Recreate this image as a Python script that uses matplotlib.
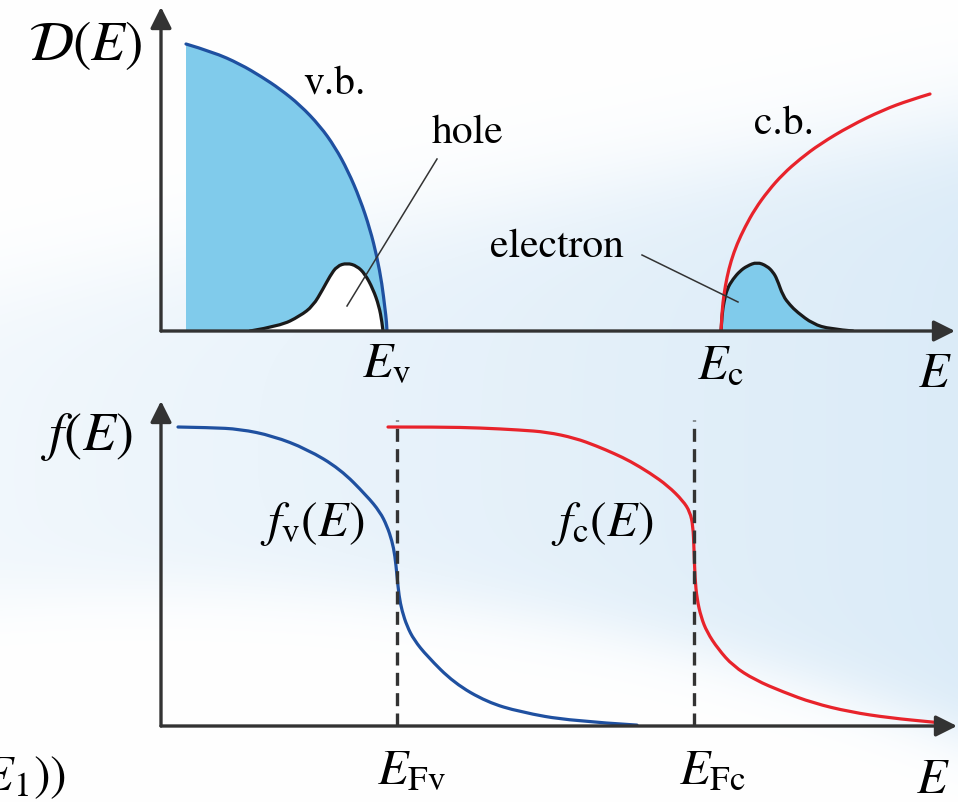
import numpy as np
import matplotlib.pyplot as plt
from matplotlib.path import Path
from matplotlib.patches import PathPatch

plt.rcParams['font.family'] = 'STIXGeneral'
plt.rcParams['mathtext.fontset'] = 'stix'

# band edges and quasi-Fermi levels (arbitrary energy units)
E_v, E_c = 2.26, 5.60
E_Fv, E_Fc = 2.36, 5.33

# valence band density of states
vb_E = [0.25, 0.52, 0.79, 1.01, 1.19, 1.39, 1.59, 1.74, 1.87, 1.99, 2.09,
        2.16, 2.21, 2.24, 2.255, 2.26]
vb_D = [2.87, 2.79, 2.67, 2.54, 2.42, 2.26, 2.05, 1.84, 1.60, 1.32, 1.02,
        0.74, 0.47, 0.22, 0.10, 0.00]

# holes near the valence band edge
hole_E = [0.89, 1.19, 1.39, 1.52, 1.62, 1.69, 1.76, 1.86, 1.96, 2.04, 2.12,
          2.18, 2.21, 2.22]
hole_D = [0.00, 0.05, 0.15, 0.25, 0.42, 0.55, 0.65, 0.68, 0.65, 0.57, 0.42,
          0.25, 0.09, 0.00]

# conduction band density of states
cb_E = [5.60, 5.61, 5.63, 5.66, 5.70, 5.76, 5.84, 5.94, 6.07, 6.22, 6.39,
        6.59, 6.89, 7.22, 7.49, 7.69]
cb_D = [0.00, 0.20, 0.37, 0.54, 0.70, 0.87, 1.04, 1.22, 1.40, 1.57, 1.72,
        1.87, 2.05, 2.21, 2.31, 2.37]

# electrons near the conduction band edge
el_E = [5.60, 5.61, 5.63, 5.66, 5.72, 5.79, 5.86, 5.96, 6.06, 6.12, 6.16,
        6.22, 6.29, 6.36, 6.52, 6.69, 6.92]
el_D = [0.00, 0.17, 0.29, 0.42, 0.52, 0.60, 0.65, 0.69, 0.65, 0.59, 0.52,
        0.35, 0.26, 0.19, 0.07, 0.02, 0.00]

# occupation probabilities
fv_E = [0.17, 0.49, 0.79, 1.12, 1.46, 1.79, 2.06, 2.19, 2.26, 2.31, 2.34,
        2.36, 2.38, 2.41, 2.46, 2.53, 2.66, 2.93, 3.26, 3.59, 4.09, 4.76]
fv = [1.000, 0.998, 0.993, 0.970, 0.926, 0.860, 0.769, 0.716, 0.669, 0.619,
      0.569, 0.502, 0.435, 0.385, 0.334, 0.288, 0.234, 0.144, 0.080, 0.047,
      0.017, 0.003]
fc_E = [2.27, 2.79, 3.19, 3.59, 3.86, 4.14, 4.36, 4.54, 4.69, 4.89, 5.07,
        5.22, 5.29, 5.32, 5.33, 5.34, 5.36, 5.40, 5.46, 5.57, 5.72, 5.94,
        6.22, 6.52, 6.89, 7.29, 7.72, 7.81]
fc = [1.000, 1.000, 0.997, 0.990, 0.983, 0.963, 0.936, 0.910, 0.886, 0.846,
      0.803, 0.753, 0.716, 0.669, 0.592, 0.492, 0.425, 0.365, 0.314, 0.258,
      0.201, 0.154, 0.114, 0.077, 0.047, 0.027, 0.013, 0.010]

W, H = 958, 803
AX = '#333333'
SKY = '#80cbeb'
BLUE = '#1f50a0'
RED = '#e8232b'
INK = '#1a1a1a'

fig = plt.figure(figsize=(W / 100, H / 100), dpi=100)

# pale blue wash behind the diagram
bg = fig.add_axes([0, 0, 1, 1])
yy, xx = np.mgrid[0:H, 0:W].astype(float)
y_up = 290 - 0.17 * xx
y_low = 600 - 0.1 * xx + 0.00025 * xx ** 2
a = 1 / (1 + np.exp(-(yy - y_up) / 30)) / (1 + np.exp(-(y_low - yy) / 18))
a *= 0.28 + 0.42 * xx / W
tint = np.array([0.80, 0.89, 0.96])
bg.imshow(1 - a[..., None] * (1 - tint), extent=[0, W, H, 0], aspect='auto')
bg.set_xlim(0, W)
bg.set_ylim(H, 0)
bg.axis('off')


def smooth(xs, ys, base=None):
    """Quadratic-Bezier path through the points; closed down to y=base if given."""
    p = np.column_stack([xs, ys]).astype(float)
    verts, codes = [p[0]], [Path.MOVETO]
    for i in range(1, len(p) - 2):
        verts += [p[i], (p[i] + p[i + 1]) / 2]
        codes += [Path.CURVE3, Path.CURVE3]
    verts += [p[-2], p[-1]]
    codes += [Path.CURVE3, Path.CURVE3]
    if base is not None:
        verts += [(p[-1][0], base), (p[0][0], base), p[0]]
        codes += [Path.LINETO, Path.LINETO, Path.CLOSEPOLY]
    return Path(verts, codes)


def curve(ax, xs, ys, color, lw=2.3):
    ax.add_patch(PathPatch(smooth(xs, ys), fill=False, ec=color, lw=lw,
                           capstyle='round', joinstyle='round'))


def area(ax, xs, ys, color):
    ax.add_patch(PathPatch(smooth(xs, ys, base=0), fc=color, ec='none', lw=0))


def panel(bottom_px, height_px, ymax):
    ax = fig.add_axes([161 / W, (H - bottom_px) / H, (W - 161) / W, height_px / H])
    ax.set_xlim(0, 7.97)
    ax.set_ylim(0, ymax)
    ax.axis('off')
    ax.patch.set_alpha(0)
    return ax


def arrows(ax, xtip, ytip):
    kw = dict(arrowstyle='-|>', mutation_scale=32, lw=2.4, color=AX,
              shrinkA=0, shrinkB=0)
    ax.annotate('', xy=(xtip, 0), xytext=(0, 0), arrowprops=kw, annotation_clip=False)
    ax.annotate('', xy=(0, ytip), xytext=(0, 0), arrowprops=kw, annotation_clip=False)


big = 36
small = 30

# density of states
ax1 = panel(332, 332, 3.32)
area(ax1, vb_E, vb_D, SKY)
curve(ax1, vb_E, vb_D, BLUE)
area(ax1, hole_E, hole_D, 'white')
curve(ax1, hole_E, hole_D, INK)
area(ax1, el_E, el_D, SKY)
curve(ax1, el_E, el_D, INK)
curve(ax1, cb_E, cb_D, RED)
arrows(ax1, 7.94, 3.24)
ax1.plot([1.86, 2.76], [0.25, 1.72], color=AX, lw=1.1)
ax1.plot([4.81, 5.77], [0.76, 0.29], color=AX, lw=1.1)
ax1.text(1.73, 2.48, 'v.b.', fontsize=small, ha='center', va='center')
ax1.text(3.07, 1.99, 'hole', fontsize=small, ha='center', va='center')
ax1.text(6.23, 2.08, 'c.b.', fontsize=small, ha='center', va='center')
ax1.text(3.96, 0.85, 'electron', fontsize=small, ha='center', va='center')
ax1.text(E_v, -0.33, r'$E_{\rm v}$', fontsize=big, ha='center', va='center')
ax1.text(E_c, -0.35, r'$E_{\rm c}$', fontsize=big, ha='center', va='center')
ax1.text(7.74, -0.43, r'$E$', fontsize=big, ha='center', va='center')
ax1.text(-0.76, 2.87, r'$\mathcal{D}(E)$', fontsize=40, ha='center', va='center')

# Fermi functions
ax2 = panel(727, 327, 327 / 299)
curve(ax2, fv_E, fv, BLUE)
curve(ax2, fc_E, fc, RED)
for ef in (E_Fv, E_Fc):
    ax2.plot([ef, ef], [0, 1.023], color=AX, lw=2.4, dashes=(3.9, 2.2))
arrows(ax2, 7.96, 1.087)
ax2.text(-0.74, 0.97, r'$f(E)$', fontsize=39, ha='center', va='center')
ax2.text(1.51, 0.68, r'$f_{\rm v}(E)$', fontsize=big, ha='center', va='center')
ax2.text(4.41, 0.68, r'$f_{\rm c}(E)$', fontsize=big, ha='center', va='center')
ax2.text(2.50, -0.15, r'$E_{\rm Fv}$', fontsize=big, ha='center', va='center')
ax2.text(5.51, -0.15, r'$E_{\rm Fc}$', fontsize=big, ha='center', va='center')
ax2.text(7.72, -0.18, r'$E$', fontsize=big, ha='center', va='center')

# trailing piece of an expression running off the left edge
bg.text(66, 778, r'$(E - E_1))$', fontsize=big, ha='right', va='center')

fig.savefig('out.png', dpi=100)
